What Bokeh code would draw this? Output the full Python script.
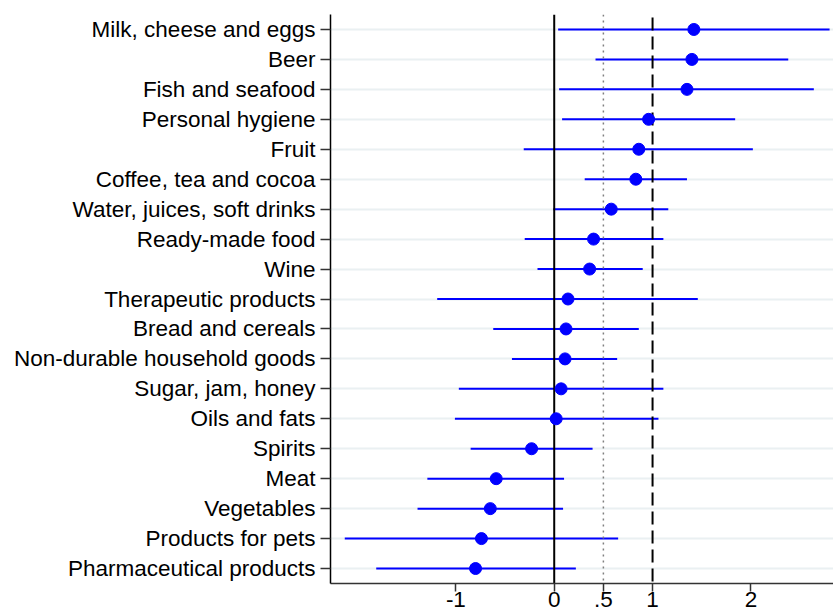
from bokeh.plotting import figure
from bokeh.models import Range1d, FactorRange, Span, FixedTicker, ColumnDataSource
from bokeh.embed import file_html
from bokeh.resources import INLINE

categories = [
    "Milk, cheese and eggs", "Beer", "Fish and seafood", "Personal hygiene",
    "Fruit", "Coffee, tea and cocoa", "Water, juices, soft drinks",
    "Ready-made food", "Wine", "Therapeutic products", "Bread and cereals",
    "Non-durable household goods", "Sugar, jam, honey", "Oils and fats",
    "Spirits", "Meat", "Vegetables", "Products for pets", "Pharmaceutical products",
]
estimate = [1.42, 1.40, 1.35, 0.96, 0.86, 0.83, 0.58, 0.40, 0.36, 0.14, 0.12,
            0.11, 0.07, 0.02, -0.23, -0.59, -0.65, -0.74, -0.80]
ci_low = [0.04, 0.42, 0.05, 0.08, -0.31, 0.31, -0.01, -0.30, -0.17, -1.19, -0.62,
          -0.43, -0.97, -1.01, -0.85, -1.29, -1.39, -2.13, -1.81]
ci_high = [2.80, 2.38, 2.64, 1.84, 2.02, 1.35, 1.16, 1.11, 0.90, 1.46, 0.86,
           0.64, 1.11, 1.06, 0.39, 0.10, 0.09, 0.65, 0.22]
x_ticks = [-1, 0, 0.5, 1, 2]
x_tick_labels = {-1: "-1", 0: "0", 0.5: ".5", 1: "1", 2: "2"}

src = ColumnDataSource(dict(cat=categories, est=estimate, lo=ci_low, hi=ci_high))

FONT = "Liberation Sans"
FS = "22.5px"

p = figure(width=833, height=609, output_backend="svg", toolbar_location=None,
           x_range=Range1d(-2.275, 2.84),
           y_range=FactorRange(factors=list(reversed(categories))),
           min_border_left=330, min_border_top=14, min_border_right=0,
           min_border_bottom=0)
p.outline_line_color = None
p.background_fill_color = "white"
p.border_fill_color = "white"

p.xgrid.grid_line_color = None
p.ygrid.grid_line_color = "#eaf0f2"
p.ygrid.grid_line_width = 2

# axes
p.xaxis.ticker = FixedTicker(ticks=x_ticks)
p.xaxis.major_label_overrides = x_tick_labels
p.xaxis.minor_tick_line_color = None
p.xaxis.major_tick_in = 0
p.xaxis.major_tick_out = 8
p.xaxis.major_label_standoff = 0
p.xaxis.axis_line_color = "#333333"
p.xaxis.axis_line_width = 1.5
p.xaxis.major_tick_line_color = "#333333"
p.xaxis.major_tick_line_width = 1.5
p.xaxis.major_label_text_font = FONT
p.xaxis.major_label_text_font_size = FS
p.xaxis.major_label_text_color = "black"

p.yaxis.major_tick_in = 0
p.yaxis.major_tick_out = 10
p.yaxis.major_label_standoff = 5
p.yaxis.axis_line_color = "black"
p.yaxis.axis_line_width = 1.5
p.yaxis.major_tick_line_color = "#333333"
p.yaxis.major_tick_line_width = 1.5
p.yaxis.major_label_text_font = FONT
p.yaxis.major_label_text_font_size = FS
p.yaxis.major_label_text_color = "black"

# confidence intervals (above grid)
p.segment(x0="lo", x1="hi", y0="cat", y1="cat", source=src,
          line_color="blue", line_width=2)

# reference lines (drawn after glyphs of the same level)
s0 = Span(location=0, dimension="height", line_color="black", line_width=2, level="glyph")
s05 = Span(location=0.5, dimension="height", line_color="#808080", line_width=1.5,
           line_dash="2 4", level="glyph")
s1 = Span(location=1, dimension="height", line_color="black", line_width=2,
          line_dash="13 6", line_dash_offset=-3, level="glyph")
p.add_layout(s0)
p.add_layout(s05)
p.add_layout(s1)

# point estimates on top
pts = p.scatter(x="est", y="cat", source=src, size=12, fill_color="blue", line_color="blue")
pts.level = "annotation"

open("out.html", "w").write(file_html(p, INLINE))
